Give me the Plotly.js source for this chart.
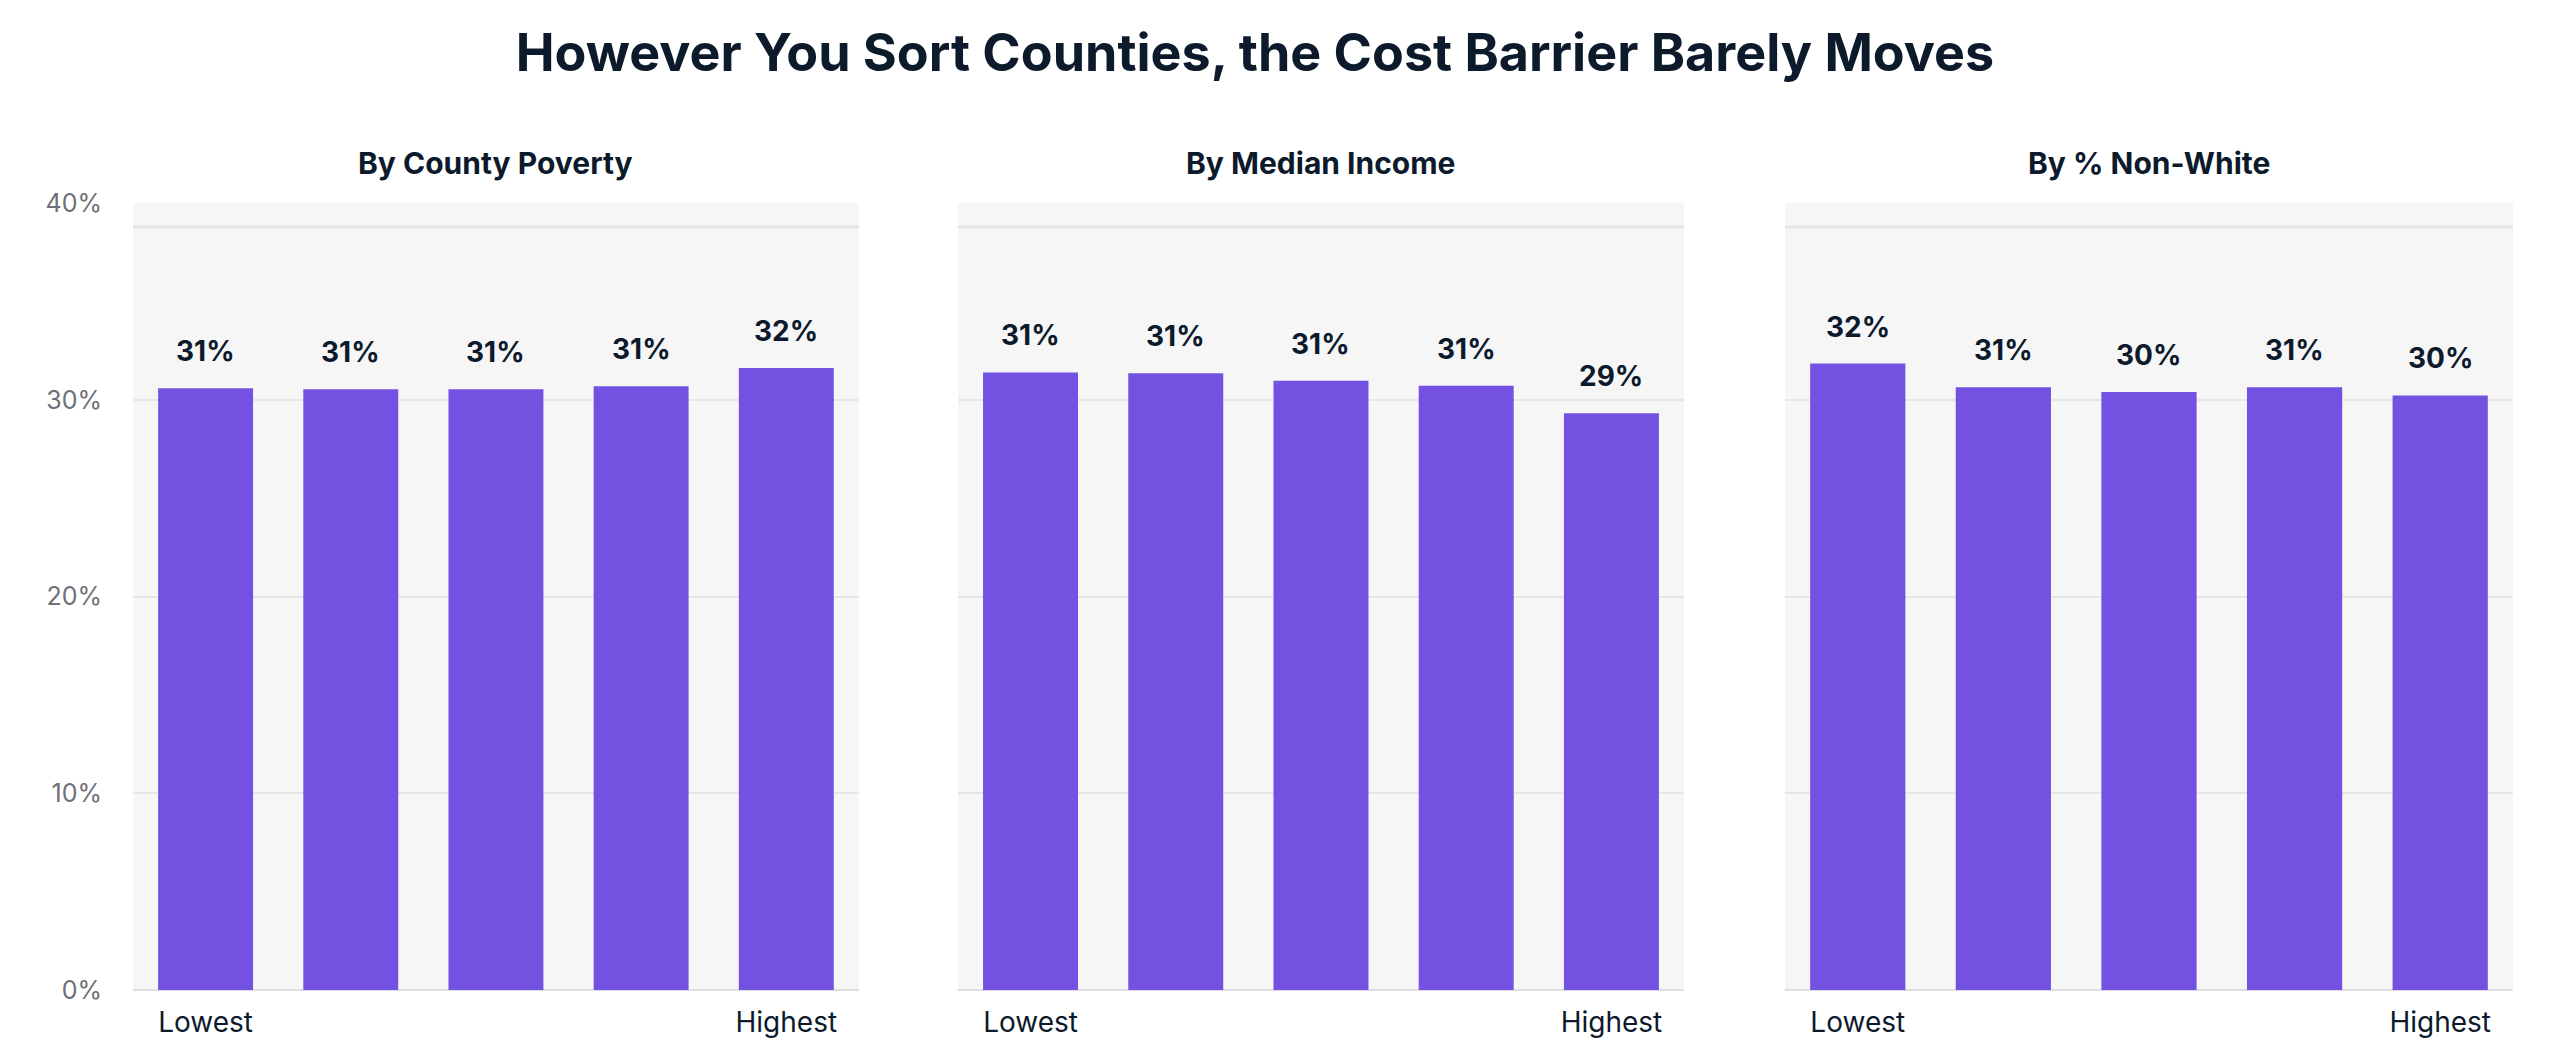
<!DOCTYPE html>
<html>
<head>
<meta charset="utf-8">
<script src="https://cdn.plot.ly/plotly-3.0.1.min.js"></script>
<style>html,body{margin:0;padding:0;background:#fff;}#chart{width:2560px;height:1058px;}</style>
</head>
<body>
<div id="chart"></div>
<script>
// ---- data ----
var categories = ["Q1", "Q2", "Q3", "Q4", "Q5"];
var tickLabels = ["Lowest", "", "", "", "Highest"];
var panelTitles = ["By County Poverty", "By Median Income", "By % Non-White"];
var povertyValues = [0.3058, 0.3053, 0.3053, 0.3068, 0.3162];
var incomeValues = [0.3139, 0.3135, 0.3096, 0.3071, 0.2931];
var nonWhiteValues = [0.3184, 0.3063, 0.3039, 0.3063, 0.3022];
var yTickVals = [0, 0.1, 0.2, 0.3, 0.4];
var yTickText = ["0%", "10%", "20%", "30%", "40%"];

var series = [povertyValues, incomeValues, nonWhiteValues];
var FONT = "Inter, 'Noto Sans', sans-serif";
var DARK = "#0c1a2c";
var BAR = "#7352e2";

var domains = [[0, 0.3050], [0.3466, 0.6517], [0.6941, 1.0]];
var traces = [];
var annotations = [];
var shapes = [];
var layout = {
  width: 2560, height: 1058,
  margin: {l: 133, r: 47, t: 203, b: 68},
  paper_bgcolor: "#ffffff",
  plot_bgcolor: "#f6f6f7",
  showlegend: false,
  bargap: 0.346,
  font: {family: FONT, color: DARK},
  title: {
    text: "<b>However You Sort Counties, the Cost Barrier Barely Moves</b>",
    font: {family: FONT, size: 52, color: DARK, weight: 800},
    x: 0.4902, xanchor: "center", xref: "container",
    y: 0.95, yanchor: "middle", yref: "container"
  }
};

series.forEach(function (vals, i) {
  var xa = i === 0 ? "x" : "x" + (i + 1);
  var ya = i === 0 ? "y" : "y" + (i + 1);
  traces.push({
    type: "bar", x: categories, y: vals, xaxis: xa, yaxis: ya,
    marker: {color: BAR, line: {width: 0}},
    hoverinfo: "skip"
  });
  vals.forEach(function (v, j) {
    annotations.push({
      x: categories[j], y: v, xref: xa, yref: ya,
      text: "<b>" + Math.round(v * 100) + "%</b>",
      showarrow: false, yanchor: "middle", yshift: 37,
      font: {family: FONT, size: 28, color: DARK}
    });
  });
  annotations.push({
    x: (domains[i][0] + domains[i][1]) / 2, y: 1.0508,
    xref: "paper", yref: "paper", xanchor: "center", yanchor: "middle",
    text: "<b>" + panelTitles[i] + "</b>", showarrow: false,
    font: {family: FONT, size: 30, color: DARK}
  });
  shapes.push({
    type: "line", xref: xa + " domain", yref: ya,
    x0: 0, x1: 1, y0: 0.3878, y1: 0.3878,
    line: {color: "#e4e4e7", width: 2.5}, layer: "below"
  });
  var xkey = i === 0 ? "xaxis" : "xaxis" + (i + 1);
  var ykey = i === 0 ? "yaxis" : "yaxis" + (i + 1);
  layout[xkey] = {
    domain: domains[i], anchor: ya,
    type: "category", categoryarray: categories,
    tickvals: categories, ticktext: tickLabels,
    ticks: "", showgrid: false, zeroline: false, showline: false,
    ticklabelstandoff: 13,
    tickfont: {family: FONT, size: 28, color: DARK},
    fixedrange: true
  };
  layout[ykey] = {
    anchor: xa, range: [0, 0.4],
    tickvals: yTickVals, ticktext: yTickText,
    showticklabels: i === 0,
    ticks: "", showline: false,
    showgrid: true, gridcolor: "#e6e6e9", gridwidth: 2,
    zeroline: true, zerolinecolor: "#dedee2", zerolinewidth: 2.5,
    ticklabelstandoff: 30,
    tickfont: {family: FONT, size: 25, color: "#6f6f78"},
    fixedrange: true
  };
});
layout.annotations = annotations;
layout.shapes = shapes;

Plotly.newPlot("chart", traces, layout, {displayModeBar: false, staticPlot: true});
</script>
</body>
</html>
